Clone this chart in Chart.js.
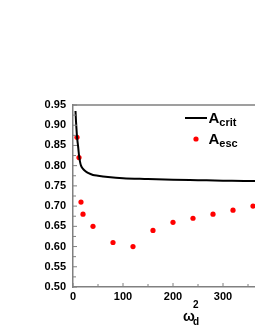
<!DOCTYPE html>
<html>
<head>
<meta charset="utf-8">
<script src="https://cdn.jsdelivr.net/npm/chart.js@4/dist/chart.umd.min.js"></script>
<style>
html,body{margin:0;padding:0;background:#fff;overflow:hidden;}
#wrap{position:absolute;left:0;top:0;width:300px;height:330px;}
</style>
</head>
<body>
<div id="wrap"><canvas id="c" width="300" height="330"></canvas></div>
<script>
// Data
const critX = [5, 6, 7, 8, 9, 10, 11, 12, 14, 16, 20, 25, 30, 40, 50, 70, 100, 150, 200, 250, 300, 360, 400];
const critY = [0.935, 0.91, 0.89, 0.872, 0.86, 0.85, 0.838, 0.826, 0.81, 0.80, 0.792, 0.786, 0.782, 0.777, 0.775, 0.772, 0.769, 0.767, 0.765, 0.764, 0.763, 0.762, 0.762];
const escX = [8, 12, 16, 20, 40, 80, 120, 160, 200, 240, 280, 320, 360];
const escY = [0.87, 0.82, 0.71, 0.68, 0.65, 0.61, 0.60, 0.64, 0.66, 0.67, 0.68, 0.69, 0.70];
const xTickValues = [0, 100, 200, 300, 400];
const yTickValues = [0.50, 0.55, 0.60, 0.65, 0.70, 0.75, 0.80, 0.85, 0.90, 0.95];

const FONT = 'Arial, "Liberation Sans", sans-serif';
const AXIS = '#808080';

const decor = {
  id: 'decor',
  afterDraw(chart) {
    const ctx = chart.ctx;
    const xs = chart.scales.x, ys = chart.scales.y;
    const a = chart.chartArea;
    ctx.save();
    ctx.strokeStyle = AXIS;
    ctx.lineWidth = 1.5;
    // frame (top + right)
    ctx.beginPath();
    ctx.moveTo(a.left, a.top); ctx.lineTo(a.right, a.top); ctx.lineTo(a.right, a.bottom);
    ctx.stroke();
    // inward ticks
    ctx.lineWidth = 1;
    ctx.beginPath();
    for (let i = 0; i < yTickValues.length; i++) {
      const v = yTickValues[i];
      const y = ys.getPixelForValue(v);
      ctx.moveTo(a.left, y); ctx.lineTo(a.left + 4, y);
      if (i < yTickValues.length - 1) {
        const ym = ys.getPixelForValue(v + 0.025);
        ctx.moveTo(a.left, ym); ctx.lineTo(a.left + 3, ym);
      }
    }
    for (let i = 0; i < xTickValues.length; i++) {
      const v = xTickValues[i];
      const x = xs.getPixelForValue(v);
      ctx.moveTo(x, a.bottom); ctx.lineTo(x, a.bottom - 4);
      const xm = xs.getPixelForValue(v + 50);
      if (v + 50 < xs.max) { ctx.moveTo(xm, a.bottom); ctx.lineTo(xm, a.bottom - 3); }
    }
    ctx.stroke();

    // legend
    ctx.strokeStyle = '#000';
    ctx.lineWidth = 2;
    ctx.beginPath();
    ctx.moveTo(185, 118); ctx.lineTo(207, 118);
    ctx.stroke();
    ctx.fillStyle = '#000';
    ctx.textBaseline = 'alphabetic';
    ctx.textAlign = 'left';
    ctx.font = 'bold 15px ' + FONT;
    ctx.fillText('A', 208.5, 123);
    let w = ctx.measureText('A').width;
    ctx.font = 'bold 11px ' + FONT;
    ctx.fillText('crit', 208.5 + w, 126);

    ctx.fillStyle = '#ff0000';
    ctx.beginPath();
    ctx.arc(196, 139, 2.6, 0, Math.PI * 2);
    ctx.fill();
    ctx.fillStyle = '#000';
    ctx.font = 'bold 15px ' + FONT;
    ctx.fillText('A', 208.5, 143.5);
    ctx.font = 'bold 11px ' + FONT;
    ctx.fillText('esc', 208.5 + w, 146.5);

    // x axis title
    ctx.font = 'bold 14px ' + FONT;
    ctx.fillText('\u03c9', 183, 321);
    ctx.font = 'bold 10px ' + FONT;
    ctx.fillText('2', 193, 308);
    ctx.fillText('d', 193, 325);
    ctx.restore();
  }
};

new Chart(document.getElementById('c'), {
  type: 'scatter',
  data: {
    datasets: [
      {
        label: 'A_crit',
        type: 'line',
        data: critX.map((x, i) => ({x: x, y: critY[i]})),
        borderColor: '#000',
        borderWidth: 2,
        pointRadius: 0,
        fill: false,
        cubicInterpolationMode: 'monotone'
      },
      {
        label: 'A_esc',
        data: escX.map((x, i) => ({x: x, y: escY[i]})),
        backgroundColor: '#ff0000',
        borderColor: '#ff0000',
        pointRadius: 2.6,
        borderWidth: 0
      }
    ]
  },
  options: {
    responsive: false,
    animation: false,
    devicePixelRatio: 1,
    layout: { padding: { left: 0, top: 105, right: 27, bottom: 0 } },
    plugins: { legend: { display: false }, tooltip: { enabled: false } },
    scales: {
      x: {
        type: 'linear', min: 0, max: 400,
        afterFit(s) { s.height = 43; },
        afterBuildTicks(s) { s.ticks = xTickValues.map(v => ({value: v})); },
        grid: { display: true, drawOnChartArea: false, drawTicks: false, color: 'transparent' },
        border: { display: true, color: AXIS, width: 1.5 },
        ticks: { padding: 3, color: '#000', font: { family: FONT, size: 11, weight: 'bold' }, maxRotation: 0, callback: v => String(v) }
      },
      y: {
        type: 'linear', min: 0.5, max: 0.95,
        afterFit(s) { s.width = 73; },
        afterBuildTicks(s) { s.ticks = yTickValues.map(v => ({value: v})); },
        grid: { display: true, drawOnChartArea: false, drawTicks: false, color: 'transparent' },
        border: { display: true, color: AXIS, width: 1.5 },
        ticks: { padding: 7, color: '#000', font: { family: FONT, size: 11, weight: 'bold' }, callback: v => Number(v).toFixed(2) }
      }
    }
  },
  plugins: [decor]
});
</script>
</body>
</html>
